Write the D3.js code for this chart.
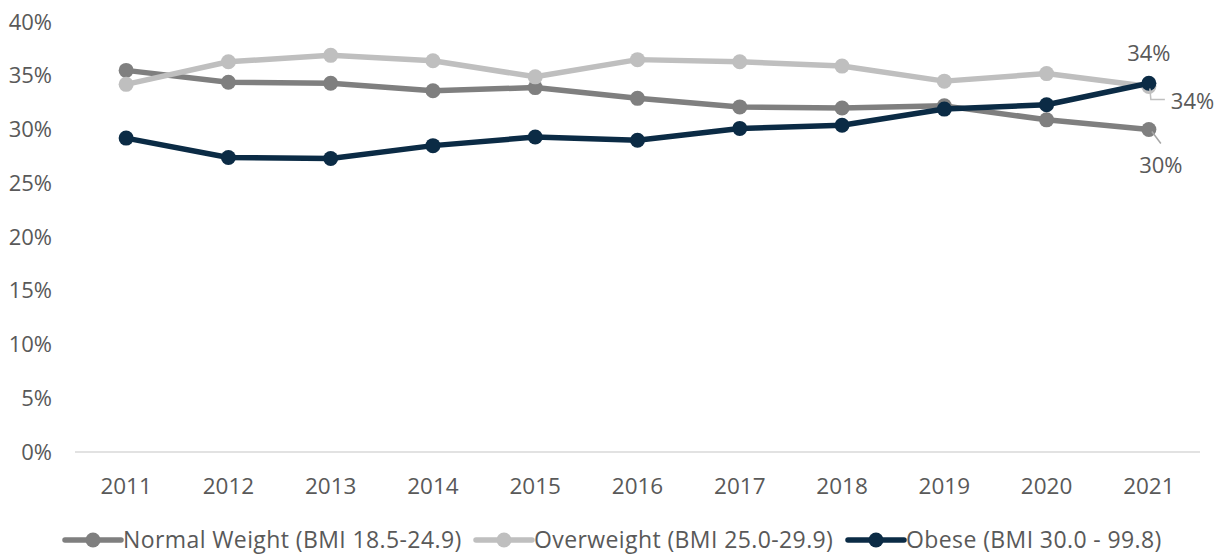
<!DOCTYPE html>
<html>
<head>
<meta charset="utf-8">
<script src="https://cdn.jsdelivr.net/npm/d3@7"></script>
<style>
  body { margin: 0; background: #fff; }
  text { font-family: "Open Sans", sans-serif; fill: #595959; }
</style>
</head>
<body>
<script>
var years = ["2011","2012","2013","2014","2015","2016","2017","2018","2019","2020","2021"];
var normalWeight = [35.5, 34.4, 34.3, 33.6, 33.9, 32.9, 32.1, 32.0, 32.2, 30.9, 30.0];
var overweight = [34.2, 36.3, 36.9, 36.4, 34.9, 36.5, 36.3, 35.9, 34.5, 35.2, 34.0];
var obese = [29.2, 27.4, 27.3, 28.5, 29.3, 29.0, 30.1, 30.4, 31.9, 32.3, 34.3];
var yTicks = [0, 5, 10, 15, 20, 25, 30, 35, 40];
var seriesNames = ["Normal Weight (BMI 18.5-24.9)", "Overweight (BMI 25.0-29.9)", "Obese (BMI 30.0 - 99.8)"];

var width = 1231,
    height = 556;

var series = [
  { name: seriesNames[0], values: normalWeight, color: "#7f7f7f" },
  { name: seriesNames[1], values: overweight, color: "#bfbfbf" },
  { name: seriesNames[2], values: obese, color: "#0b2b45" }
];

var svg = d3.select("body").append("svg")
    .attr("width", width)
    .attr("height", height);

var x = d3.scalePoint()
    .domain(years)
    .range([75, 1200])
    .padding(0.5);

var y = d3.scaleLinear()
    .domain([0, 40])
    .range([452, 22]);

// baseline
svg.append("line")
    .attr("x1", 75).attr("x2", 1200)
    .attr("y1", y(0)).attr("y2", y(0))
    .attr("stroke", "#d9d9d9")
    .attr("stroke-width", 1.5);

// y axis labels
svg.selectAll(".ylab")
    .data(yTicks)
  .enter().append("text")
    .attr("class", "ylab")
    .attr("x", 52)
    .attr("y", function(d) { return y(d); })
    .attr("dy", ".35em")
    .attr("text-anchor", "end")
    .style("font-size", "22px")
    .text(function(d) { return d + "%"; });

// x axis labels
svg.selectAll(".xlab")
    .data(years)
  .enter().append("text")
    .attr("class", "xlab")
    .attr("x", function(d) { return x(d); })
    .attr("y", 486)
    .attr("dy", ".35em")
    .attr("text-anchor", "middle")
    .style("font-size", "22.5px")
    .text(function(d) { return d; });

var line = d3.line()
    .x(function(d, i) { return x(years[i]); })
    .y(function(d) { return y(d); });

var g = svg.selectAll(".series")
    .data(series)
  .enter().append("g")
    .attr("class", "series");

g.append("path")
    .attr("d", function(s) { return line(s.values); })
    .attr("fill", "none")
    .attr("stroke", function(s) { return s.color; })
    .attr("stroke-width", 5.5)
    .attr("stroke-linejoin", "round");

g.selectAll("circle")
    .data(function(s) { return s.values.map(function(v, i) { return { v: v, i: i, color: s.color }; }); })
  .enter().append("circle")
    .attr("cx", function(d) { return x(years[d.i]); })
    .attr("cy", function(d) { return y(d.v); })
    .attr("r", 7.5)
    .attr("fill", function(d) { return d.color; });

// end labels for 2021
var last = years.length - 1;
var lx = x(years[last]);

// obese label above
svg.append("text")
    .attr("x", lx)
    .attr("y", y(obese[last]) - 30)
    .attr("dy", ".35em")
    .attr("text-anchor", "middle")
    .style("font-size", "22px")
    .text(Math.round(obese[last]) + "%");

// overweight label with leader
svg.append("polyline")
    .attr("points", [[lx + 1, y(overweight[last]) + 2], [lx + 2, y(overweight[last]) + 13], [lx + 16, y(overweight[last]) + 13]].join(" "))
    .attr("fill", "none")
    .attr("stroke", "#bfbfbf")
    .attr("stroke-width", 1.5);
svg.append("text")
    .attr("x", lx + 22)
    .attr("y", y(overweight[last]) + 15)
    .attr("dy", ".35em")
    .attr("text-anchor", "start")
    .style("font-size", "22px")
    .text(Math.round(overweight[last]) + "%");

// normal label with leader
svg.append("line")
    .attr("x1", lx + 3).attr("y1", y(normalWeight[last]) + 2)
    .attr("x2", lx + 12).attr("y2", y(normalWeight[last]) + 14)
    .attr("stroke", "#a6a6a6")
    .attr("stroke-width", 1.5);
svg.append("text")
    .attr("x", lx + 12)
    .attr("y", y(normalWeight[last]) + 36)
    .attr("dy", ".35em")
    .attr("text-anchor", "middle")
    .style("font-size", "22px")
    .text(Math.round(normalWeight[last]) + "%");

// legend
var legendX = [65, 476, 848];
var lg = svg.selectAll(".legend")
    .data(series)
  .enter().append("g")
    .attr("class", "legend")
    .attr("transform", function(d, i) { return "translate(" + legendX[i] + ",540)"; });

lg.append("line")
    .attr("x1", 0).attr("x2", 56)
    .attr("y1", 0).attr("y2", 0)
    .attr("stroke", function(d) { return d.color; })
    .attr("stroke-width", 5.5)
    .attr("stroke-linecap", "round");
lg.append("circle")
    .attr("cx", 28).attr("cy", 0)
    .attr("r", 7.5)
    .attr("fill", function(d) { return d.color; });
lg.append("text")
    .attr("x", 58)
    .attr("y", 0)
    .attr("dy", ".35em")
    .style("font-size", "23px")
    .style("letter-spacing", "0.4px")
    .text(function(d) { return d.name; });
</script>
</body>
</html>
